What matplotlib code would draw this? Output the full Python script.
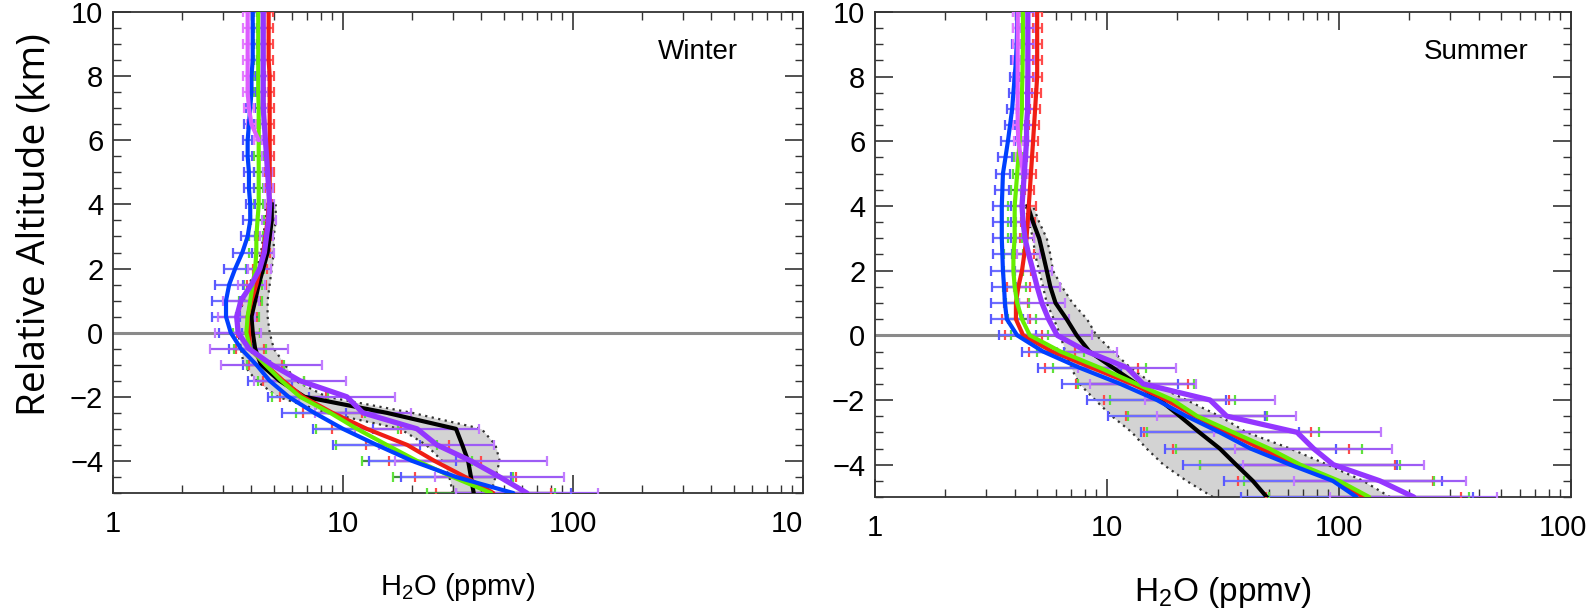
import numpy as np
import matplotlib
matplotlib.use('Agg')
import matplotlib.pyplot as plt
from matplotlib.ticker import FixedLocator, LogLocator, MultipleLocator, NullFormatter
from matplotlib.transforms import Bbox, TransformedBbox

plt.rcParams['font.family'] = 'Liberation Sans'
plt.rcParams['mathtext.fontset'] = 'custom'
plt.rcParams['mathtext.rm'] = 'Liberation Sans'
plt.rcParams['mathtext.it'] = 'Liberation Sans:italic'

# relative altitude (km), one profile level every 0.5 km
alt = [-5.0, -4.5, -4.0, -3.5, -3.0, -2.5, -2.0, -1.5, -1.0, -0.5, 0.0, 0.5, 1.0, 1.5, 2.0,
       2.5, 3.0, 3.5, 4.0, 4.5, 5.0, 5.5, 6.0, 6.5, 7.0, 7.5, 8.0, 8.5, 9.0, 9.5, 10.0]

x_ticks = [1, 10, 100, 1000]
x_tick_labels = ['1', '10', '100', '1000']

# ---- Winter: mean H2O (ppmv) and error bar half width (log10) ----
w_red = [45, 34, 25, 19, 12.7, 9.0, 6.7, 5.5, 4.6, 3.95, 3.9, 3.85, 4.0, 4.2, 4.35, 4.5, 4.6,
         4.7, 4.75, 4.8, 4.8, 4.8, 4.8, 4.8, 4.8, 4.8, 4.8, 4.75, 4.75, 4.75, 4.75]
w_green = [44, 30, 21, 15.5, 11.5, 8.8, 6.5, 5.4, 4.6, 3.95, 3.8, 3.85, 3.95, 4.05, 4.15, 4.2,
           4.2, 4.25, 4.3, 4.3, 4.3, 4.3, 4.3, 4.3, 4.3, 4.28, 4.28, 4.28, 4.28, 4.28, 4.28]
w_blue = [55, 31, 20, 14, 10, 7.5, 5.8, 4.8, 4.2, 3.6, 3.25, 3.1, 3.1, 3.2, 3.4, 3.65, 3.85,
          3.95, 3.95, 3.9, 3.9, 3.85, 3.85, 3.9, 3.95, 4.0, 4.0, 4.05, 4.05, 4.05, 4.05]
w_purple = [63, 48, 36, 25.6, 21, 12.2, 10.4, 6.5, 4.9, 3.9, 3.5, 3.45, 3.6, 4.0, 4.35, 4.55,
            4.65, 4.75, 4.8, 4.75, 4.7, 4.65, 4.6, 4.55, 4.5, 4.5, 4.5, 4.5, 4.5, 4.5, 4.5]
w_magenta = [None] * 22 + [4.3, 4.0, 3.9, 3.85, 3.85, 3.85, 3.85, 3.85, 3.85]

w_red_err = [0.25, 0.22, 0.20, 0.18, 0.15, 0.13, 0.10, 0.09, 0.07, 0.06, 0.05, 0.04, 0.04,
             0.04, 0.03, 0.03, 0.03, 0.02] + [0.02] * 13
w_green_err = [0.28, 0.26, 0.24, 0.22, 0.18, 0.15, 0.12, 0.10, 0.08, 0.07, 0.06, 0.05, 0.05,
               0.04, 0.04, 0.03, 0.03, 0.03] + [0.02] * 13
w_blue_err = [0.25, 0.24, 0.19, 0.19, 0.13, 0.14, 0.09, 0.095, 0.06, 0.05, 0.05, 0.06, 0.06,
              0.06, 0.05, 0.04, 0.03, 0.03] + [0.02] * 13
w_purple_err = [0.31, 0.28, 0.33, 0.25, 0.27, 0.21, 0.21, 0.20, 0.22, 0.17, 0.10, 0.08, 0.08,
                0.06, 0.05, 0.04, 0.03, 0.03] + [0.02] * 13
w_magenta_err = [None] * 22 + [0.02] * 9

w_black = [37, 36, 35, 33, 31, 15.5, 6.8, 5.3, 4.4, 4.15, 4.05, 4.0, 4.15, 4.3, 4.5, 4.7,
           4.8, 4.9, 4.9] + [None] * 12
w_band_lo = [30, 29, 27, 23, 17.7, 8.5, 5.2, 4.2, 3.7, 3.6, 3.5, 3.5, 3.7, 3.9, 4.2, 4.4,
             4.5, 4.6, 4.6] + [None] * 12
w_band_hi = [44, 46, 48, 46, 40, 20, 8.5, 6.2, 5.6, 5.0, 4.8, 4.7, 4.7, 4.8, 4.9, 5.0,
             5.0, 5.1, 5.1] + [None] * 12

# ---- Summer ----
s_red = [128, 97, 66, 46, 33, 24, 18, 12.8, 8.6, 5.8, 4.35, 4.05, 4.05, 4.15, 4.3, 4.4, 4.5,
         4.55, 4.6, 4.65, 4.7, 4.75, 4.8, 4.85, 4.9, 4.95, 5.0, 5.0, 5.0, 5.0, 5.0]
s_green = [135, 100, 68, 50, 35, 24.5, 19.2, 13.4, 9.3, 6.3, 4.65, 4.3, 4.1, 4.0, 3.95, 3.95,
           4.0, 4.0, 4.0, 4.05, 4.1, 4.15, 4.2, 4.25, 4.3, 4.3, 4.32, 4.33, 4.34, 4.34, 4.34]
s_blue = [119, 94, 61.6, 41.5, 30.6, 22, 16.4, 11.4, 7.6, 5.3, 4.1, 3.7, 3.63, 3.6, 3.56, 3.54,
          3.52, 3.52, 3.52, 3.54, 3.56, 3.65, 3.74, 3.82, 3.9, 3.95, 4.0, 4.05, 4.08, 4.1, 4.1]
s_purple = [210, 150, 94.5, 77.6, 66, 32.8, 27.8, 14.3, 12.2, 8.2, 6.1, 5.6, 5.24, 5.0, 4.8,
            4.6, 4.43, 4.35, 4.3, 4.35, 4.4, 4.45, 4.5, 4.5, 4.55, 4.55, 4.56, 4.56, 4.56,
            4.56, 4.56]
s_magenta = [None] * 20 + [4.35, 4.25, 4.15, 4.12, 4.12, 4.12, 4.12, 4.12, 4.12, 4.12, 4.12]

s_red_err = [0.42, 0.42, 0.42, 0.38, 0.36, 0.30, 0.27, 0.24, 0.20, 0.10, 0.08, 0.06, 0.05,
             0.05, 0.04, 0.04, 0.03, 0.03, 0.03] + [0.02] * 12
s_green_err = [0.43, 0.41, 0.43, 0.40, 0.37, 0.30, 0.27, 0.25, 0.20, 0.10, 0.08, 0.06, 0.05,
               0.05, 0.04, 0.04, 0.03, 0.03, 0.03] + [0.02] * 12
s_blue_err = [0.50, 0.47, 0.46, 0.37, 0.34, 0.34, 0.30, 0.25, 0.18, 0.09, 0.08, 0.07, 0.06,
              0.05, 0.05, 0.04, 0.04, 0.04, 0.04, 0.03, 0.03, 0.03, 0.03] + [0.02] * 8
s_purple_err = [0.36, 0.37, 0.39, 0.34, 0.36, 0.30, 0.28, 0.23, 0.21, 0.13, 0.15, 0.09, 0.10,
                0.10, 0.08, 0.05, 0.04, 0.03, 0.03] + [0.03] * 12
s_magenta_err = [None] * 20 + [0.02] * 11

s_black = [48.8, 42.5, 36, 30.6, 25, 20.6, 16.9, 13.4, 10.6, 8.4, 7.4, 6.7, 6.0, 5.7, 5.5,
           5.3, 5.1, 4.8, 4.56] + [None] * 12
s_band_lo = [28.6, 22, 17.5, 14.8, 12.8, 10.5, 8.9, 7.6, 7.0, 6.6, 6.3, 5.9, 5.5, 5.3, 5.1,
             4.9, 4.8, 4.6, 4.45] + [None] * 12
s_band_hi = [166, 127, 89, 61.5, 40, 30.6, 22, 15.8, 12.6, 10.6, 9.0, 8.2, 7.1, 6.4, 5.85,
             5.7, 5.5, 5.1, 4.8] + [None] * 12

# line colour, error bar colour, cap colour, line width
styles = {
    'red': ('#f01e14', '#ff6060', '#ff4a4a', 3.0),
    'green': ('#66ee00', '#3f8f3f', '#5ee23a', 3.0),
    'blue': ('#0040ff', '#6d6dff', '#5a5aff', 3.0),
    'magenta': ('#dd5cff', '#e37cff', '#e37cff', 3.0),
    'purple': ('#9436ff', '#9d5cf5', '#c27cff', 3.8),
}


def draw_panel(ax, profiles, black, band_lo, band_hi, season, season_pos, xlab_size):
    a = np.array(alt)
    lo = np.array(band_lo, dtype=float)
    hi = np.array(band_hi, dtype=float)
    ax.fill_betweenx(a, lo, hi, color='#d3d3d3', lw=0, zorder=1)
    ax.plot(lo, a, ls=(0, (1, 2)), color='#333333', lw=1.6, zorder=2)
    ax.plot(hi, a, ls=(0, (1, 2)), color='#333333', lw=1.6, zorder=2)
    ax.axhline(0, color='#8a8a8a', lw=2.2, zorder=2)

    for name, vals, err in profiles:
        v = np.array(vals, dtype=float)
        h = np.array(err, dtype=float)
        xerr = [v - v / 10 ** h, v * 10 ** h - v]
        _, bar_col, cap_col, _ = styles[name]
        _, caps, _ = ax.errorbar(v, a, xerr=xerr, fmt='none', ecolor=bar_col,
                                 elinewidth=1.6, capsize=3.8, capthick=1.6, zorder=3)
        for c in caps:
            c.set_color(cap_col)
            c.set_markeredgecolor(cap_col)

    ax.plot(np.array(black, dtype=float), a, color='black', lw=3.0, zorder=4)
    for name, vals, err in profiles:
        line_col, _, _, lw = styles[name]
        ax.plot(np.array(vals, dtype=float), a, color=line_col, lw=lw, zorder=5,
                solid_capstyle='round')

    ax.set_xscale('log')
    ax.set_xlim(1, 1000)
    ax.set_ylim(-5, 10)
    ax.xaxis.set_major_locator(FixedLocator(x_ticks))
    ax.xaxis.set_minor_locator(LogLocator(base=10, subs=np.arange(2, 10)))
    ax.xaxis.set_minor_formatter(NullFormatter())
    ax.set_xticklabels(x_tick_labels)
    ax.yaxis.set_major_locator(MultipleLocator(2))
    ax.yaxis.set_minor_locator(MultipleLocator(0.5))
    ax.tick_params(which='both', direction='in', top=True, right=True, color='#333333')
    ax.tick_params(which='major', length=13, width=1.2, labelsize=21)
    ax.tick_params(which='minor', length=6, width=1.0)
    ax.tick_params(axis='x', which='major', pad=12)
    ax.tick_params(axis='y', which='major', pad=7)
    for sp in ax.spines.values():
        sp.set_color('#333333')
        sp.set_linewidth(1.3)

    ax.set_xlabel('H$_2$O (ppmv)', fontsize=xlab_size, labelpad=24)
    ax.text(season_pos[0], season_pos[1], season, transform=ax.transAxes,
            ha='center', va='center', fontsize=20)


fig = plt.figure(figsize=(15.87, 6.11), dpi=100)
ax1 = fig.add_axes([113 / 1587, 1 - 493 / 611, 690 / 1587, 481 / 611])
ax2 = fig.add_axes([875 / 1587, 1 - 497 / 611, 696 / 1587, 485 / 611])

draw_panel(ax1,
           [('red', w_red, w_red_err), ('green', w_green, w_green_err),
            ('blue', w_blue, w_blue_err), ('magenta', w_magenta, w_magenta_err),
            ('purple', w_purple, w_purple_err)],
           w_black, w_band_lo, w_band_hi, 'Winter', (0.848, 0.917), 21)
draw_panel(ax2,
           [('red', s_red, s_red_err), ('green', s_green, s_green_err),
            ('blue', s_blue, s_blue_err), ('magenta', s_magenta, s_magenta_err),
            ('purple', s_purple, s_purple_err)],
           s_black, s_band_lo, s_band_hi, 'Summer', (0.863, 0.918), 24)

# the left panel's last tick label is cut where the right panel starts
clip = TransformedBbox(Bbox([[0, 0], [803 / 1587, 1]]), fig.transFigure)
last = ax1.xaxis.get_major_ticks()[-1].label1
last.set_clip_box(clip)
last.set_clip_on(True)

fig.text(35 / 1587, 1 - 225 / 611, 'Relative Altitude (km)', rotation=90,
         ha='center', va='center', family='Open Sans', fontsize=28)

fig.savefig('out.png', dpi=100)
